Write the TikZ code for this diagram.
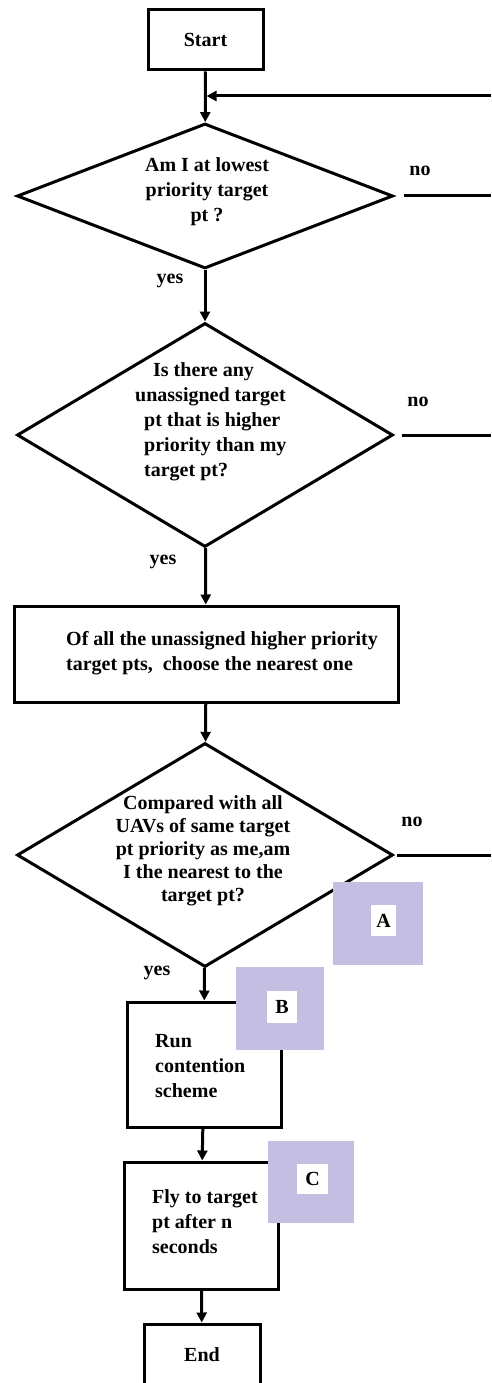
\documentclass[tikz,border=0pt]{standalone}
\usepackage{fontspec}
\setmainfont{Liberation Serif}
\usetikzlibrary{shapes.geometric,arrows.meta}
\definecolor{lav}{RGB}{197,190,227}
\begin{document}
\begin{tikzpicture}[x=1pt,y=-1pt,
  box/.style={draw,line width=3pt,inner sep=0pt,font=\fontsize{20}{25}\selectfont\bfseries},
  dia/.style={draw,line width=3pt,diamond,inner sep=0pt,minimum width=376pt},
  txt/.style={inner sep=0pt,font=\fontsize{20}{25}\selectfont\bfseries},
  conn/.style={line width=3pt,-{Triangle[length=10pt,width=10pt]}},
  plainline/.style={line width=3pt},
  tag/.style={fill=lav,inner sep=0pt},
  tagw/.style={fill=white,inner sep=0pt,font=\fontsize{20}{20}\selectfont\bfseries}
]
\useasboundingbox (0,0) rectangle (491,1383);
\clip (0,0) rectangle (491,1383);

% boxes and decisions
\node[box,minimum width=115pt,minimum height=60pt] (start) at (205.5,40) {Start};
\node[dia,minimum height=145pt] (d1) at (205,196) {};
\node[txt,align=center] (d1t) at (207,192) {Am I at lowest\\priority target\\pt ?};
\node[dia,minimum height=224pt] (d2) at (205,435) {};
\node[txt,align=left,anchor=west] (d2t) at (135,422) {\hspace*{18pt}Is there any\\unassigned target\\\hspace*{9pt}pt that is higher\\\hspace*{9pt}priority than my\\\hspace*{9pt}target pt?};
\node[box,minimum width=384pt,minimum height=96pt] (b3) at (206,654) {};
\node[txt,align=left,anchor=west] (b3t) at (66,653.5) {Of all the unassigned higher priority\\target pts,\ \ choose the nearest one};
\node[dia,minimum height=224pt] (d3) at (205,855) {};
\node[txt,align=center,font=\fontsize{20}{23}\selectfont\bfseries] (d3t) at (203,851) {Compared with all\\UAVs of same target\\pt priority as me,am\\I the nearest to the\\target pt?};
\node[box,minimum width=154pt,minimum height=125pt] (run) at (204,1064.5) {};
\node[txt,align=left,anchor=west] (runt) at (155,1066.5) {Run\\contention\\scheme};
\node[box,minimum width=154pt,minimum height=127pt] (fly) at (201,1225.5) {};
\node[txt,align=left,anchor=west] (flyt) at (152,1221.5) {Fly to target\\pt after n\\seconds};
\node[box,minimum width=116pt,minimum height=62pt] (end) at (202,1355) {End};

% labels
\node[txt] (no1) at (420,171) {no};
\node[txt] (no2) at (418,402) {no};
\node[txt] (no3) at (412,822) {no};
\node[txt] (yes1) at (170,281) {yes};
\node[txt] (yes2) at (163,562) {yes};
\node[txt] (yes3) at (157,973) {yes};

% connectors
\draw[conn] (start) -- (d1);
\draw[conn] (d1) -- (d2);
\draw[conn] (d2) -- (b3);
\draw[conn] (b3) -- (d3);
\draw[conn] (d3) -- (run);
\draw[conn] (run) -- (fly);
\draw[conn] (fly) -- (end);
\coordinate (fb) at (491,96);
\draw[conn,shorten >=1.5pt] (fb) -- (fb -| d1.north);
\coordinate (e1) at (491,196);
\coordinate (e2) at (491,435);
\coordinate (e3) at (491,855);
\draw[plainline] ([xshift=9pt]d1.east) -- (e1);
\draw[plainline] ([xshift=7pt]d2.east) -- (e2);
\draw[plainline] ([xshift=2pt]d3.east) -- (e3);

% lavender tags
\node[tag,minimum width=90pt,minimum height=83pt] (tagA) at (378,923.5) {};
\node[tagw,minimum width=25pt,minimum height=31pt] (labA) at (383.5,920.5) {A};
\node[tag,minimum width=88pt,minimum height=83pt] (tagB) at (280,1008.5) {};
\node[tagw,minimum width=30pt,minimum height=32pt] (labB) at (282,1007) {B};
\node[tag,minimum width=86pt,minimum height=82pt] (tagC) at (311,1182) {};
\node[tagw,minimum width=31pt,minimum height=30pt] (labC) at (312.5,1179) {C};
\end{tikzpicture}
\end{document}
